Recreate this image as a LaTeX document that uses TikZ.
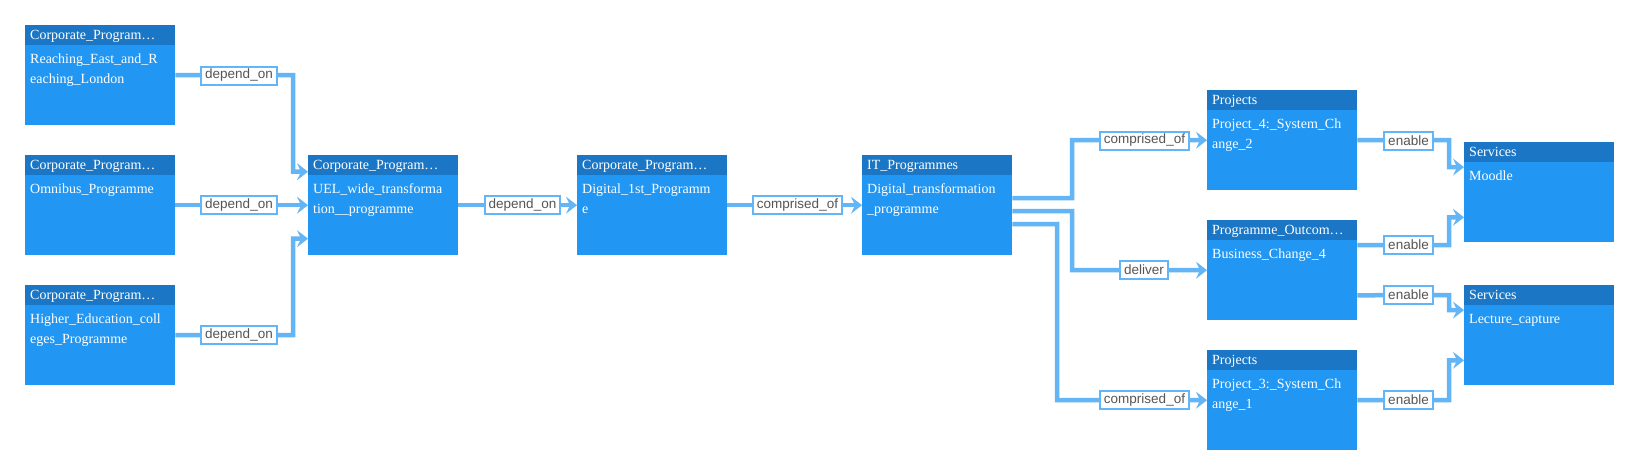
\documentclass[tikz,border=0pt]{standalone}
\usepackage{fontspec}
\setmainfont{Liberation Serif}
\newfontfamily\labelfont{Liberation Sans}
\usetikzlibrary{calc,arrows.meta}
\definecolor{nodeblue}{HTML}{2196F3}
\definecolor{headblue}{HTML}{1B77C5}
\definecolor{edgeblue}{HTML}{64B5F6}
\definecolor{labelgray}{HTML}{555555}
\newcommand\ent[7]{%
  \node[entity] (#1) at (#2,#3) {};
  \node[headbar] (#1h) at (#2,#3) {};
  \node[txt] (#1a) at ({#2+5},{#3+14.5}) {#4};
  \node[txt] (#1b) at ({#2+5},{#3+38}) {#5};
  \node[txt] (#1c) at ({#2+5},{#3+58}) {#6};
}
\begin{document}
\begin{tikzpicture}[x=1pt,y=-1pt,
  entity/.style={fill=nodeblue, draw=none, minimum width=150pt, minimum height=100pt, inner sep=0pt, anchor=north west},
  headbar/.style={fill=headblue, draw=none, minimum width=150pt, minimum height=20pt, inner sep=0pt, anchor=north west},
  txt/.style={text=white, font=\fontsize{14}{20}\selectfont, anchor=base west, inner sep=0pt},
  rel/.style={draw=edgeblue, line width=4.5pt, -{Stealth[length=11pt,width=17pt,inset=4pt,line width=0pt]}},
  lbl/.style={fill=white, draw=edgeblue, line width=2pt, font=\labelfont\fontsize{13.5}{16}\selectfont, text=labelgray, inner xsep=4pt, inner ysep=0pt, minimum height=18pt}
]
\useasboundingbox[fill=white] (0,0) rectangle (1639,475);

\ent{n1}{25}{25}{Corporate\_Program…}{Reaching\_East\_and\_R}{eaching\_London}{}
\ent{n2}{25}{155}{Corporate\_Program…}{Omnibus\_Programme}{}{}
\ent{n3}{25}{285}{Corporate\_Program…}{Higher\_Education\_coll}{eges\_Programme}{}
\ent{uel}{308}{155}{Corporate\_Program…}{UEL\_wide\_transforma}{tion\_\_programme}{}
\ent{dig}{577}{155}{Corporate\_Program…}{Digital\_1st\_Programm}{e}{}
\ent{it}{862}{155}{IT\_Programmes}{Digital\_transformation}{\_programme}{}
\ent{p4}{1207}{90}{Projects}{Project\_4:\_System\_Ch}{ange\_2}{}
\ent{po}{1207}{220}{Programme\_Outcom…}{Business\_Change\_4}{}{}
\ent{p3}{1207}{350}{Projects}{Project\_3:\_System\_Ch}{ange\_1}{}
\ent{moodle}{1464}{142}{Services}{Moodle}{}{}
\ent{lect}{1464}{285}{Services}{Lecture\_capture}{}{}

% connectors
\draw[rel] (n1.east) -- (293,75) |- ($(uel.north west)!1/6!(uel.south west)$);
\draw[rel] (n2.east) -- (uel.west);
\draw[rel] (n3.east) -- (293,335) |- ($(uel.north west)!5/6!(uel.south west)$);
\draw[rel] (uel.east) -- (dig.west);
\draw[rel] (dig.east) -- (it.west);
\draw[rel] ($(it.east)+(0,-7)$) -- (1072,198) |- (p4.west);
\draw[rel] ($(it.east)+(0,6)$) -- (1072,211) |- (po.west);
\draw[rel] ($(it.east)+(0,19)$) -- (1057,224) |- (p3.west);
\draw[rel] (p4.east) -- (1449,140) |- ($(moodle.north west)!1/4!(moodle.south west)$);
\draw[rel] ($(po.north east)!1/4!(po.south east)$) -- (1449,245) |- ($(moodle.north west)!3/4!(moodle.south west)$);
\draw[rel] ($(po.north east)!3/4!(po.south east)$) -- (1449,295) |- ($(lect.north west)!1/4!(lect.south west)$);
\draw[rel] (p3.east) -- (1449,400) |- ($(lect.north west)!3/4!(lect.south west)$);

% labels
\node[lbl] (l1) at (239,75.5) {depend\_on};
\node[lbl] (l2) at (239,205) {depend\_on};
\node[lbl] (l3) at (239,335) {depend\_on};
\node[lbl] (l4) at (522.5,205) {depend\_on};
\node[lbl] (l5) at (797.5,205) {comprised\_of};
\node[lbl] (l6) at (1144.5,140.5) {comprised\_of};
\node[lbl] (l7) at (1144,270) {deliver};
\node[lbl] (l8) at (1144.5,400) {comprised\_of};
\node[lbl] (l9) at (1408.5,140.5) {enable};
\node[lbl] (l10) at (1408.5,245) {enable};
\node[lbl] (l11) at (1408.5,295) {enable};
\node[lbl] (l12) at (1408.5,400) {enable};
\end{tikzpicture}
\end{document}
